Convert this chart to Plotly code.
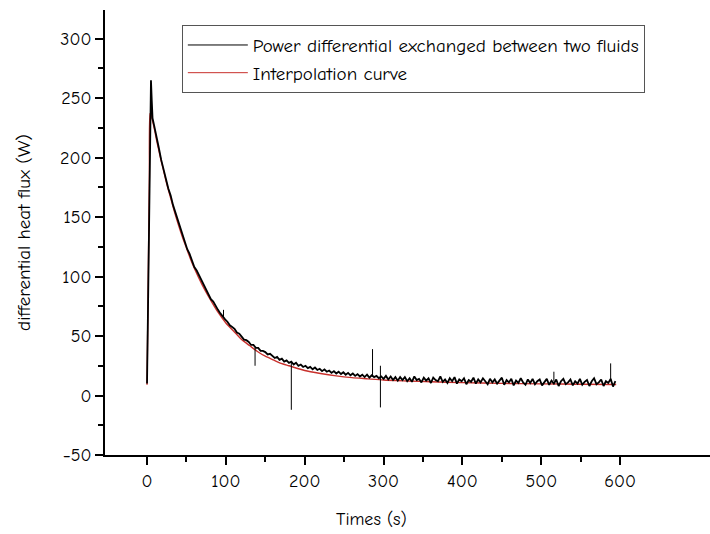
import plotly.graph_objects as go

# ---- data ----
# measured signal: early rise and peak
black_t_early = [0, 1, 2, 3, 4, 5, 6, 7]
black_v_early = [10, 60, 120, 185, 240, 265, 248, 233]

# measured signal: sampled every 3 s from t = 9 s
black_t0 = 9
black_dt = 3
black_v_rest = [
    227, 216, 208, 198, 191, 182, 174, 168, 160, 154,
    147, 140, 135, 129, 123, 119, 114, 108, 105, 101,
    96, 92, 89, 85, 81, 79, 75, 72, 69, 66,
    64, 62, 59, 57.5, 56, 53, 52, 49.5, 47, 46.5,
    45, 42.5, 42.5, 40, 40, 37.5, 37.5, 36.5, 34.5, 35,
    33.5, 31.5, 32.5, 30, 31, 28.5, 29.5, 27.5, 28.5, 26,
    27.5, 25, 26, 24, 25, 23, 24, 22, 23.5, 21.5,
    22.5, 20.5, 22, 20, 21, 19, 20.5, 18.5, 20, 18,
    19.5, 17.5, 19, 17, 18.5, 16.5, 18, 16, 17.5, 15.5,
    17.5, 15, 17, 15.5, 16.5, 14.5, 16, 14, 16.5, 13.5,
    16, 13, 15.5, 12.5, 15.5,
    13, 15.5, 12, 14.5, 11.5, 16, 13, 14, 11, 15,
    12.5, 14.5, 10.5, 15, 13, 12, 16, 11.5, 13.5, 10.5,
    14.5, 12, 15.5, 10, 13.5, 12, 14.5, 9.5, 13, 11.5,
    15, 10, 13.5, 11, 14.5, 12, 9.5, 14, 11, 13.5,
    10, 12.5, 15, 9, 13, 11, 14, 8.5, 12.5, 10.5,
    14.5, 11, 9, 13.5, 10.5, 14, 9.5, 12, 13.5, 8.5,
    11.5, 14, 9, 12.5, 10, 13.5, 8, 12, 14, 9.5,
    11, 13.5, 8.5, 12, 10, 14, 9, 11.5, 13, 8,
    12, 14.5, 9.5, 11, 13.5, 8, 12, 10.5, 14, 7.5,
    12,
]

# isolated spikes in the measured signal: time, level of the trace, spike tip
spike_t = [97, 137, 183, 286, 296, 296, 516, 588]
spike_from = [65, 40, 28, 16, 15, 15, 12, 12]
spike_to = [72, 25, -12, 39, 25, -10, 20, 27]

# interpolation curve
red_t = [0, 1, 2, 3, 4, 5, 6, 8, 10, 12, 15, 18, 21, 25, 30, 35, 40, 45, 50, 55,
         60, 70, 80, 90, 100, 110, 120, 130, 140, 150, 160, 170, 180, 200, 220,
         240, 260, 280, 300, 330, 360, 400, 450, 500, 550, 595]
red_v = [9, 65, 125, 185, 237, 237, 234, 228, 222, 215, 206, 197, 189, 178, 166,
         154, 143, 133, 124, 115, 107, 93, 81, 70, 61, 54, 47, 42, 37, 33, 30, 27,
         25, 21, 18.5, 16.5, 15, 14, 13, 12.2, 11.5, 10.8, 10.2, 9.8, 9.5, 9.3]

x_ticks = [0, 100, 200, 300, 400, 500, 600]
x_minor = [50, 150, 250, 350, 450, 550]
y_ticks = [-50, 0, 50, 100, 150, 200, 250, 300]
y_minor = [-25, 25, 75, 125, 175, 225, 275]

legend_black = "Power differential exchanged between two fluids"
legend_red = "Interpolation curve"
x_title = "Times (s)"
y_title = "differential heat flux (W)"

# ---- build ----
black_t = black_t_early + [black_t0 + black_dt * i for i in range(len(black_v_rest))]
black_v = black_v_early + black_v_rest

sx, sy = [], []
for t, a, b in zip(spike_t, spike_from, spike_to):
    sx += [t, t, None]
    sy += [a, b, None]

FONT = "Comic Sans MS, Comic Neue, DejaVu Sans, sans-serif"
RED = "#c8302c"

fig = go.Figure()
fig.add_trace(go.Scatter(x=red_t, y=red_v, mode="lines", showlegend=False,
                         line=dict(color=RED, width=1.4, shape="spline",
                                   smoothing=0.6)))
fig.add_trace(go.Scatter(x=black_t, y=black_v, mode="lines", showlegend=False,
                         line=dict(color="#000000", width=1.8)))
fig.add_trace(go.Scatter(x=sx, y=sy, mode="lines", showlegend=False,
                         line=dict(color="#000000", width=1)))
# legend entries (thin sample lines as in the reference)
fig.add_trace(go.Scatter(x=[None], y=[None], mode="lines", name=legend_black,
                         line=dict(color="#000000", width=1)))
fig.add_trace(go.Scatter(x=[None], y=[None], mode="lines", name=legend_red,
                         line=dict(color=RED, width=1)))

fig.update_layout(
    width=710, height=534,
    margin=dict(l=105, r=0, t=10, b=79),
    paper_bgcolor="white", plot_bgcolor="white",
    font=dict(family=FONT, size=18, color="black"),
    showlegend=True,
    legend=dict(x=0.127, y=0.966, xanchor="left", yanchor="top",
                bordercolor="#555555", borderwidth=1, bgcolor="white",
                font=dict(size=19), tracegroupgap=0, traceorder="normal",
                itemwidth=60),
    annotations=[dict(text=x_title, x=0.441, y=-0.146, xref="paper", yref="paper",
                      showarrow=False, font=dict(size=18),
                      xanchor="center", yanchor="middle")],
)
fig.update_xaxes(range=[-53.3, 714], showline=True, linecolor="black", linewidth=2,
                 tickmode="array", tickvals=x_ticks, ticks="outside", ticklen=8,
                 tickwidth=1.5, tickcolor="black", showgrid=False, zeroline=False,
                 tickfont=dict(size=18),
                 minor=dict(tickmode="array", tickvals=x_minor, ticks="outside",
                            ticklen=5, tickwidth=1.5, tickcolor="black", showgrid=False))
fig.update_yaxes(range=[-50, 324], showline=True, linecolor="black", linewidth=2,
                 tickmode="array", tickvals=y_ticks, ticks="outside", ticklen=8,
                 tickwidth=1.5, tickcolor="black", showgrid=False, zeroline=False,
                 tickfont=dict(size=18),
                 title=dict(text=y_title, font=dict(size=19), standoff=24),
                 minor=dict(tickmode="array", tickvals=y_minor, ticks="outside",
                            ticklen=5, tickwidth=1.5, tickcolor="black", showgrid=False))

fig.write_html("out.html")
